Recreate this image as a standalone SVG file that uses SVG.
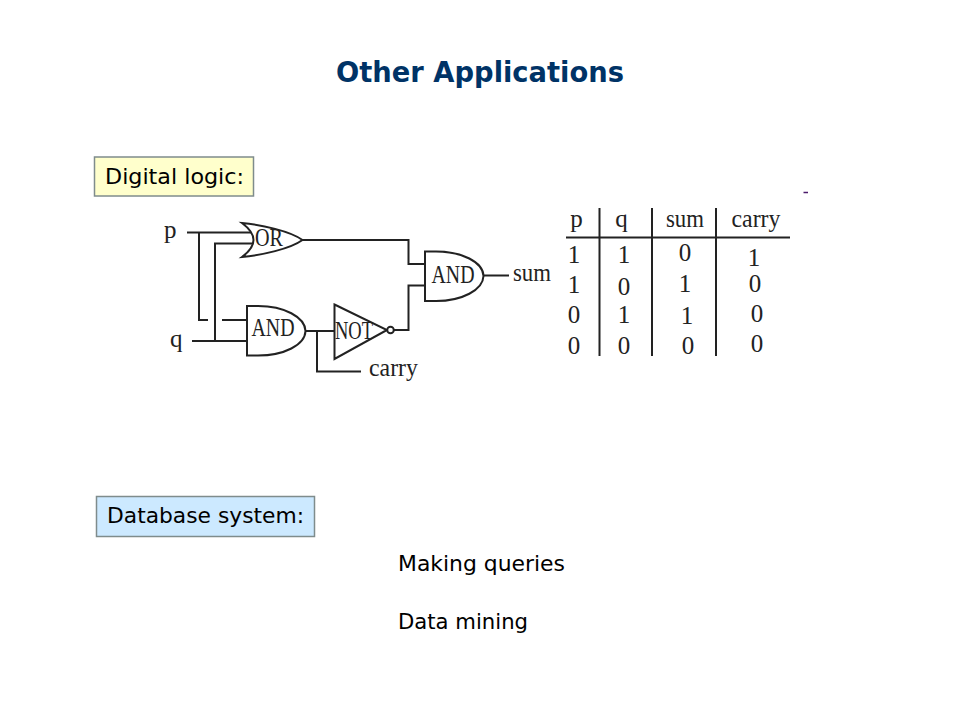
<svg xmlns="http://www.w3.org/2000/svg" width="960" height="720" viewBox="0 0 960 720">
<style>
.c{font-family:"DejaVu Sans","Liberation Sans",sans-serif;fill:#000;font-size:22px}
.t{font-family:"DejaVu Sans","Liberation Sans",sans-serif;font-weight:700;font-size:29px;fill:#003366}
.s{font-family:"Liberation Serif","DejaVu Serif",serif;fill:#222;font-size:25px}
.w{fill:none;stroke:#222;stroke-width:2}
.g{fill:#fff;stroke:#222;stroke-width:2}
.b{stroke:#7f8c8c;stroke-width:1.5}
</style>
<rect width="960" height="720" fill="#fff"/>
<text id="title" class="t" x="336" y="82" textLength="288" lengthAdjust="spacingAndGlyphs">Other Applications</text>
<g id="digital-logic">
<rect class="b" x="94.5" y="157" width="159" height="39" fill="#ffffcc"/>
<text class="c" x="105" y="184" textLength="139" lengthAdjust="spacingAndGlyphs">Digital logic:</text>
</g>
<g id="database-system">
<rect class="b" x="96.5" y="496.5" width="218" height="40" fill="#cce9ff"/>
<text class="c" x="107" y="523" textLength="197" lengthAdjust="spacingAndGlyphs">Database system:</text>
</g>
<g id="making-queries"><text class="c" x="398" y="571" textLength="167" lengthAdjust="spacingAndGlyphs">Making queries</text></g>
<g id="data-mining"><text class="c" x="398" y="629" textLength="130" lengthAdjust="spacingAndGlyphs">Data mining</text></g>
<g id="connectors">
<path class="w" d="M187 232.500H251M199 232.500V320H208M222 320H247M192 341H247M215 341V243.500H252"/>
<path class="w" d="M302 240H408.500V264H425M425 285.500H408.500V330H394"/>
<path class="w" d="M483 275.500H509M305 331H334M317 331V371.500H361"/>
</g>
<g id="or-gate">
<path class="g" d="M242 223C262 225 290 231 302.500 240C290 249 262 255 242 257C250 251 253.500 246 253.500 240C253.500 234 250 229 242 223Z"/>
<text class="s" x="255" y="246" textLength="28" lengthAdjust="spacingAndGlyphs">OR</text>
</g>
<g id="and-gate-top">
<path class="g" d="M425 251.500H436C462 251.500 483 262 483.500 276C483 290 462 301 436 301H425Z"/>
<text class="s" x="431.500" y="283" textLength="43" lengthAdjust="spacingAndGlyphs">AND</text>
</g>
<g id="and-gate-bottom">
<path class="g" d="M247 306H258C284 306 305 317 305.500 331C305 345 284 355.500 258 355.500H247Z"/>
<text class="s" x="251.500" y="336" textLength="43" lengthAdjust="spacingAndGlyphs">AND</text>
</g>
<g id="not-gate">
<path class="g" d="M334.500 304.500L387 330L334.500 359Z"/>
<circle class="g" cx="390.500" cy="330" r="3.300"/>
<text class="s" x="335" y="339" textLength="38" lengthAdjust="spacingAndGlyphs">NOT</text>
</g>
<g id="labels">
<text class="s" x="164" y="238" font-size="26">p</text>
<text class="s" x="170" y="347" font-size="26">q</text>
<text class="s" x="513" y="281" textLength="38" lengthAdjust="spacingAndGlyphs">sum</text>
<text class="s" x="369" y="376" textLength="49" lengthAdjust="spacingAndGlyphs">carry</text>
</g>
<g id="truth-table">
<path class="w" d="M599.500 208V356M652 208V356M716 208V356M566 237.500H790"/>
<path d="M803.500 192.500H808" stroke="#4b1a6b" stroke-width="1.500"/>
<g class="s" text-anchor="middle">
<text x="576.500" y="227">p</text><text x="621.500" y="227">q</text><text x="685" y="227" textLength="38" lengthAdjust="spacingAndGlyphs">sum</text><text x="756" y="227" textLength="49" lengthAdjust="spacingAndGlyphs">carry</text>
<text x="574" y="263">1</text><text x="624" y="263">1</text><text x="685" y="261">0</text><text x="754" y="266">1</text>
<text x="574" y="293">1</text><text x="624" y="295">0</text><text x="685" y="292">1</text><text x="755" y="292">0</text>
<text x="574" y="323">0</text><text x="624" y="323">1</text><text x="687" y="324">1</text><text x="757" y="322">0</text>
<text x="574" y="354">0</text><text x="624" y="354">0</text><text x="688" y="354">0</text><text x="757" y="352">0</text>
</g>
</g>
</svg>
